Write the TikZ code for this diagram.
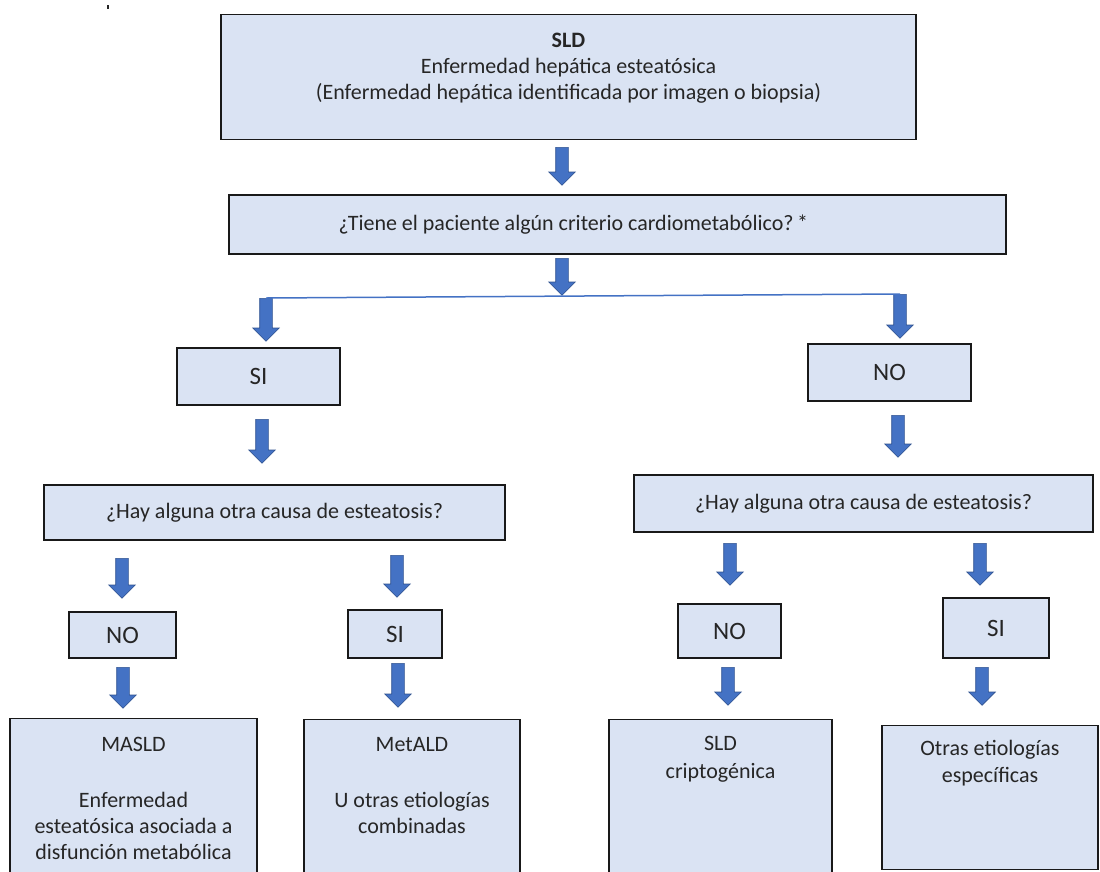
\documentclass[tikz,border=0pt]{standalone}
\usepackage{fontspec}
\setmainfont{Carlito}
\usetikzlibrary{shapes.arrows}
\definecolor{boxFill}{RGB}{218,227,243}
\definecolor{arrBlue}{RGB}{68,114,196}
\definecolor{arrEdge}{RGB}{47,82,143}
\definecolor{inkText}{RGB}{38,38,38}

\begin{document}
\begin{tikzpicture}[x=1pt,y=-1pt,
  bx/.style={draw=black!90,line width=1.3pt,fill=boxFill,text=inkText,align=center,
             font=\fontsize{22}{26}\selectfont,inner sep=0pt},
  yn/.style={bx,font=\fontsize{25}{30}\selectfont},
  tbox/.style={bx,anchor=north},
  darr/.style={single arrow,shape border rotate=270,anchor=tail,fill=arrBlue,draw=arrEdge,
               line width=0.6pt,minimum width=26pt,single arrow head extend=7pt,
               single arrow tip angle=90,inner sep=6pt,minimum height=#1}]
  \useasboundingbox (0,0) rectangle (1100,871);
  \clip (0,0) rectangle (1100,871);
  \fill[inkText] (107,5) rectangle (109,9);
  \node[tbox,minimum width=695pt,text height=85pt,text depth=40pt] (sld) at (568.5,14)
       {\textbf{SLD}\\Enfermedad hepática esteatósica\\(Enfermedad hepática identificada por imagen o biopsia)};
  \node[bx,minimum width=777pt,minimum height=59pt] (crit) at (617.5,224.5)
       {¿Tiene el paciente algún criterio cardiometabólico?\,*\hspace*{88pt}};
  \node[yn,minimum width=163pt,minimum height=57pt] (si) at (258.5,376.5) {SI};
  \node[yn,minimum width=163pt,minimum height=57pt] (no) at (889.5,372.5) {NO};
  \node[bx,minimum width=461pt,minimum height=55pt] (csi) at (274.5,512.5) {¿Hay alguna otra causa de esteatosis?};
  \node[bx,minimum width=459pt,minimum height=57pt] (cno) at (863.5,503.5) {¿Hay alguna otra causa de esteatosis?};
  \node[yn,minimum width=107pt,minimum height=46pt] (sino) at (122.5,635) {NO};
  \node[yn,minimum width=94pt,minimum height=48pt] (sisi) at (395,634) {SI};
  \node[yn,minimum width=103pt,minimum height=54pt] (nono) at (729.5,631) {NO};
  \node[yn,minimum width=106pt,minimum height=60pt] (nosi) at (996,628) {SI};
  \node[tbox,minimum width=247pt,text height=141pt,text depth=30pt] (masld) at (133.5,718)
       {MASLD\\[30pt]Enfermedad\\esteatósica asociada a\\disfunción metabólica};
  \node[tbox,minimum width=216pt,text height=114pt,text depth=60pt] (metald) at (412,719)
       {MetALD\\[30pt]U otras etiologías\\combinadas};
  \node[tbox,minimum width=223pt,text height=59pt,text depth=100pt] (cripto) at (720.5,719)
       {SLD\\[2pt]criptogénica};
  \node[tbox,minimum width=216pt,text height=57pt,text depth=87pt] (otras) at (990,725)
       {Otras etiologías\\[1pt]específicas};
  \node[darr=38pt] (a1) at (562,147) {};
  \node[darr=37pt] (a2) at (562,258) {};
  \node[darr=43pt] (a3) at (266,298) {};
  \node[darr=44pt] (a4) at (900,294) {};
  \node[darr=44pt] (a5) at (262,419) {};
  \node[darr=42pt] (a6) at (898,415) {};
  \node[darr=40pt] (a7) at (122,558) {};
  \node[darr=42pt] (a8) at (397,555) {};
  \node[darr=42pt] (a9) at (730,543) {};
  \node[darr=42pt] (a10) at (980,543) {};
  \node[darr=41pt] (a11) at (123,667) {};
  \node[darr=44pt] (a12) at (398,663) {};
  \node[darr=38pt] (a13) at (728,667) {};
  \node[darr=38pt] (a14) at (982,667) {};
  \draw[arrBlue,line width=1.5pt] (a3.tail) -- (a4.tail);
\end{tikzpicture}
\end{document}
